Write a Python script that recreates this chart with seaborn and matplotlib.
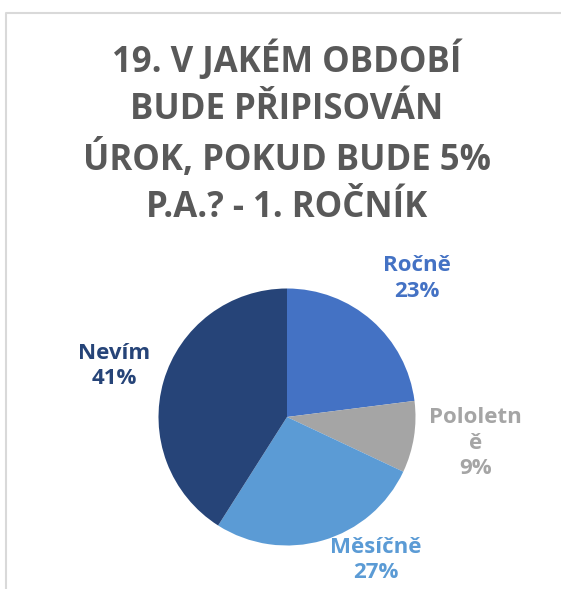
import matplotlib
matplotlib.use("Agg")
import matplotlib.pyplot as plt
import seaborn as sns
import numpy as np

categories = ["Ročně", "Pololetně", "Měsíčně", "Nevím"]
values = [23, 9, 27, 41]
label_texts = ["Ročně\n23%", "Pololetn\ně\n9%", "Měsíčně\n27%", "Nevím\n41%"]
colors = ["#4472C4", "#A5A5A5", "#5B9BD5", "#264478"]
title = "19. V JAKÉM OBDOBÍ\nBUDE PŘIPISOVÁN\nÚROK, POKUD BUDE 5%\nP.A.? - 1. ROČNÍK"

sns.set_theme(style="white")
plt.rcParams['font.family'] = ['Open Sans', 'DejaVu Sans']

W, H = 561, 589
fig = plt.figure(figsize=(W / 100, H / 100), dpi=100)
ax = fig.add_axes([0, 0, 1, 1])

cx, cy, r = 287, H - 417, 128.5
wedges, _ = ax.pie(values, colors=colors, startangle=90, counterclock=False,
                   center=(cx, cy), radius=r, frame=True,
                   wedgeprops=dict(linewidth=0))
ax.set_xlim(0, W)
ax.set_ylim(0, H)
ax.set_aspect('equal')
ax.axis('off')

# chart frame (light gray border, cut at right/bottom)
ax.plot([6.5, 6.5, W + 5], [-5, H - 12.5, H - 12.5], color="#D9D9D9", lw=1.5)

# label placement: distance factor and angle tweak from the wedge mid-angle
label_dist = [1.48, 1.48, 1.31, 1.40]
label_dang = [-1.7, 1.1, 15.7, -0.3]
for w, txt, col, d, da in zip(wedges, label_texts, colors, label_dist, label_dang):
    ang = np.deg2rad((w.theta1 + w.theta2) / 2 + da)
    ax.text(cx + d * r * np.cos(ang), cy + d * r * np.sin(ang), txt,
            ha='center', va='center', color=col, fontsize=16,
            fontweight='bold', linespacing=1.3)

ax.text(287, H - 133, title, ha='center', va='center', color="#595959",
        fontsize=25, fontweight='bold', linespacing=1.4)

fig.savefig("out.png", dpi=100)
